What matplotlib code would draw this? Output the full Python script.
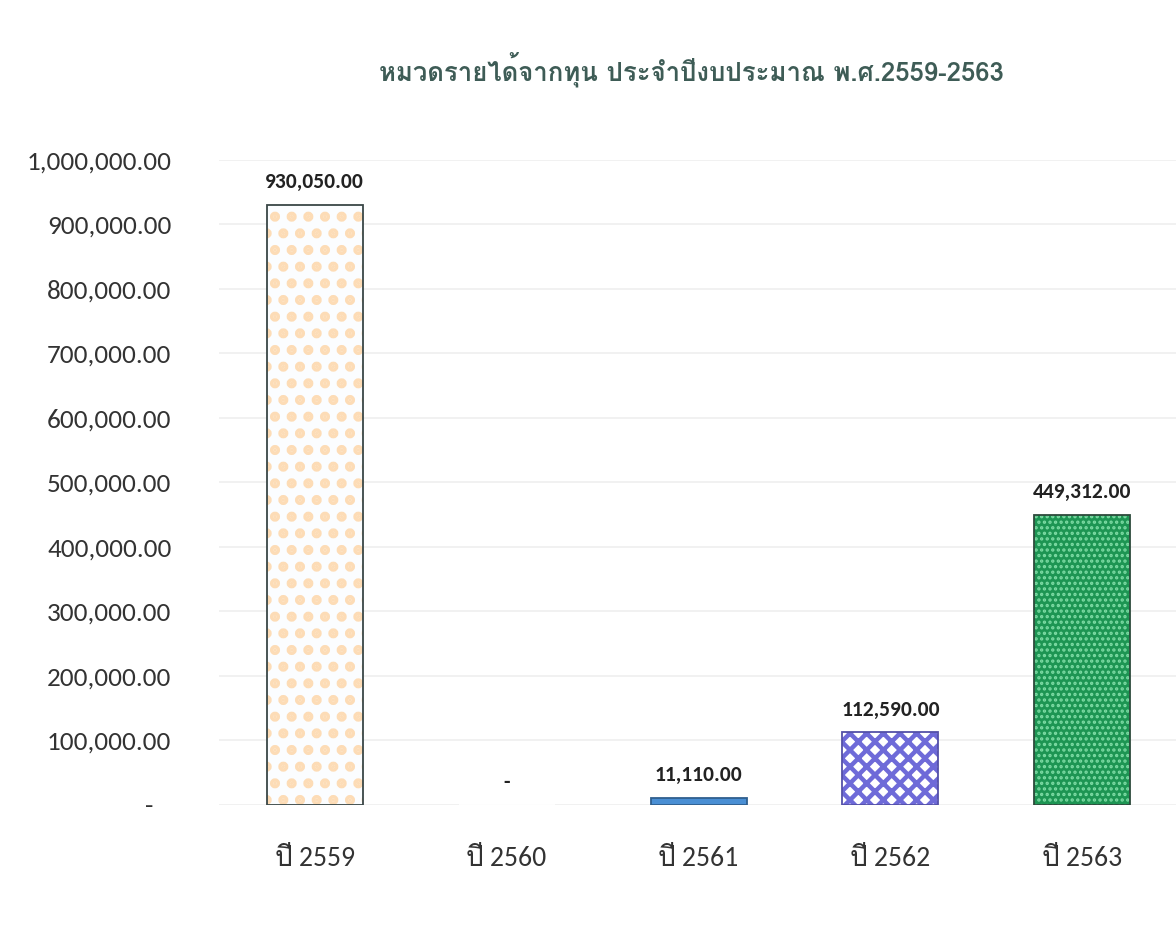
import matplotlib
matplotlib.use("Agg")
from matplotlib import pyplot as plt
from matplotlib.ticker import FuncFormatter

# data
years = ["ปี 2559", "ปี 2560", "ปี 2561", "ปี 2562", "ปี 2563"]
income = [930050.00, 0.00, 11110.00, 112590.00, 449312.00]
title = "หมวดรายได้จากทุน ประจำปีงบประมาณ พ.ศ.2559-2563"

plt.rcParams['font.family'] = ['Carlito', 'Loma', 'DejaVu Sans']

# bar looks: fill, hatch colour, hatch, hatch width, outline
face = ["#fbfdff", "white", "#4a8fd4", "white", "#1d9553"]
hatch_col = ["#fddcb6", "white", "#4a8fd4", "#6e6ad8", "#7ddba4"]
hatches = [".", None, None, "xx", "..."]
hatch_lw = [4.8, 1.0, 1.0, 3.2, 1.6]
outline = ["#3a4747", "white", "#2f5f8f", "#5450a8", "#2d4a3c"]

fig = plt.figure(figsize=(11.76, 9.39), dpi=100)
ax = fig.add_axes([0.186, 0.143, 0.816, 0.687])

x = list(range(len(years)))
for i, v in enumerate(income):
    with plt.rc_context({'hatch.linewidth': hatch_lw[i]}):
        ax.bar(i, v, width=0.5, color=face[i], edgecolor=hatch_col[i], hatch=hatches[i],
               linewidth=0, zorder=2)
ax.bar(x, income, width=0.5, fill=False, edgecolor=outline, linewidth=1.3, zorder=3)

ax.set_xlim(-0.5, 4.5)
ax.set_ylim(0, 1000000)
ax.set_yticks(range(0, 1000001, 100000))
ax.yaxis.set_major_formatter(FuncFormatter(lambda v, p: "-   " if v == 0 else f"{v:,.2f}"))
ax.set_xticks(x)
ax.set_xticklabels(years)
ax.tick_params(axis='y', length=0, pad=34, labelsize=19.5, labelcolor="#333333")
ax.tick_params(axis='x', length=0, pad=30, labelsize=20, labelcolor="#333333")
ax.grid(axis='y', color="#efefef", linewidth=1.2, zorder=0)
for s in ax.spines.values():
    s.set_visible(False)

for i, v in enumerate(income):
    lab = "-" if v == 0 else f"{v:,.2f}"
    ax.annotate(lab, (i, v), xytext=(0, 9), textcoords="offset points", ha="center", va="bottom",
                fontsize=15.5, fontweight="bold", color="#222222")

fig.text(0.588, 0.925, title, ha="center", va="center", fontsize=18.5, fontweight="bold",
         color="#3e5c56", family=['Loma', 'DejaVu Sans'])

fig.savefig("out.png", dpi=100)
